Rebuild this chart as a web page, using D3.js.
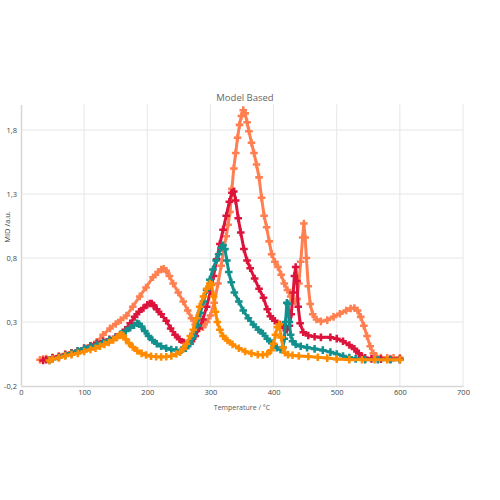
<!DOCTYPE html>
<html>
<head>
<meta charset="utf-8">
<script src="https://cdn.jsdelivr.net/npm/d3@7"></script>
<style>
  body { margin: 0; background: #fff; }
  text { font-family: "Open Sans", sans-serif; }
</style>
</head>
<body>
<script>
// axis ticks
var xTicks = [0, 100, 200, 300, 400, 500, 600, 700];
var yTicks = [-0.2, 0.3, 0.8, 1.3, 1.8];

// coral series
var coralT = [30,35,40,50,60,70,80,90,100,110,
  120,130,141,150,158,167,177,188,198,209,
  217,222,226,230,235,241,249,257,264,270,
  276,282,288,294,300,306,312,317,321,325,
  328,331,334,337,340,343,346,349,352,355,
  358,361,365,369,373,377,381,385,389,393,
  397,402,407,412,417,422,427,431,434,437,
  440,443,446,448,450,452,455,458,462,468,
  475,485,495,505,515,522,528,533,538,543,
  548,553,558,563,570,580,590,600];
var coralV = [0.005,0.01,0.015,0.025,0.035,0.05,0.06,0.075,0.095,0.115,
  0.145,0.2,0.25,0.285,0.315,0.35,0.42,0.5,0.57,0.65,
  0.69,0.71,0.715,0.7,0.66,0.6,0.53,0.46,0.39,0.33,
  0.28,0.255,0.26,0.3,0.35,0.45,0.6,0.74,0.86,0.97,
  1.06,1.16,1.34,1.5,1.62,1.74,1.84,1.91,1.955,1.93,
  1.86,1.79,1.7,1.62,1.53,1.43,1.27,1.13,1.04,0.93,
  0.83,0.77,0.73,0.67,0.6,0.55,0.5,0.47,0.46,0.48,
  0.6,0.77,0.96,1.07,0.96,0.8,0.58,0.44,0.36,0.32,
  0.305,0.315,0.34,0.365,0.39,0.405,0.41,0.39,0.34,0.27,
  0.19,0.11,0.055,0.03,0.022,0.02,0.02,0.02];

// crimson series
var crimsonT = [35,40,50,60,70,80,90,100,110,120,
  130,140,150,157,165,173,180,187,194,200,
  204,207,210,215,222,230,237,244,251,258,
  264,270,276,282,288,294,300,305,310,315,
  320,325,330,334,337,340,344,348,353,358,
  363,370,377,384,390,395,402,410,416,421,
  425,428,431,433,435,437,439,442,447,455,
  465,475,490,500,510,520,528,535,540,545,
  555,570,585,600];
var crimsonV = [0,0.005,0.02,0.03,0.045,0.06,0.075,0.095,0.115,0.135,
  0.15,0.165,0.185,0.2,0.24,0.29,0.34,0.38,0.41,0.435,
  0.445,0.445,0.43,0.4,0.36,0.31,0.25,0.2,0.165,0.14,
  0.135,0.15,0.19,0.25,0.32,0.42,0.54,0.66,0.79,0.91,
  1.02,1.13,1.24,1.31,1.32,1.25,1.11,1.0,0.87,0.78,
  0.72,0.64,0.56,0.49,0.4,0.345,0.31,0.28,0.255,0.24,
  0.27,0.36,0.53,0.66,0.73,0.62,0.42,0.29,0.22,0.195,
  0.185,0.18,0.18,0.17,0.15,0.12,0.09,0.055,0.03,0.02,
  0.012,0.01,0.01,0.01];

// teal series
var tealT = [45,50,60,70,80,90,100,110,120,130,
  140,150,158,166,173,179,184,187,191,196,
  202,208,215,222,230,238,246,254,261,268,
  274,279,284,289,294,299,304,309,313,317,
  320,323,326,329,333,338,345,352,360,368,
  376,383,390,397,405,411,415,417,419,421,
  423,425,427,430,435,443,453,465,478,490,
  500,510,520,530,545,565,585,600];
var tealV = [0,0.01,0.025,0.04,0.055,0.075,0.095,0.11,0.125,0.14,
  0.16,0.18,0.205,0.23,0.255,0.275,0.29,0.285,0.265,0.23,
  0.19,0.16,0.13,0.11,0.095,0.085,0.08,0.08,0.095,0.13,
  0.19,0.27,0.37,0.46,0.55,0.63,0.71,0.78,0.83,0.88,
  0.9,0.87,0.78,0.69,0.61,0.53,0.46,0.39,0.33,0.28,
  0.24,0.21,0.17,0.135,0.1,0.085,0.1,0.17,0.3,0.45,
  0.44,0.3,0.2,0.15,0.125,0.11,0.1,0.09,0.08,0.065,
  0.05,0.035,0.022,0.012,0.006,0.005,0.005,0.005];

// orange series
var orangeT = [45,50,60,70,80,90,100,110,118,125,
  132,139,146,152,156,159,162,166,171,177,
  184,191,198,206,214,222,230,238,246,252,
  257,262,268,273,278,283,289,294,299,302,
  305,308,311,315,320,327,335,345,355,365,
  375,383,390,396,400,403,406,409,412,415,
  418,423,430,440,455,470,485,500,520,540,
  560,580,600];
var orangeV = [0,0.01,0.02,0.035,0.045,0.055,0.07,0.085,0.095,0.11,
  0.125,0.14,0.16,0.18,0.195,0.2,0.19,0.165,0.135,0.105,
  0.075,0.055,0.042,0.033,0.028,0.026,0.028,0.035,0.05,0.065,
  0.09,0.13,0.19,0.24,0.33,0.42,0.5,0.56,0.6,0.59,
  0.5,0.38,0.3,0.24,0.19,0.155,0.125,0.095,0.07,0.055,
  0.045,0.043,0.05,0.08,0.13,0.2,0.26,0.28,0.18,0.1,
  0.06,0.045,0.04,0.035,0.03,0.025,0.018,0.01,0.006,0.005,
  0.005,0.005,0.005];

var series = [
  { t: coralT, v: coralV, color: "#ff7f50" },
  { t: crimsonT, v: crimsonV, color: "#dc143c" },
  { t: tealT, v: tealV, color: "#12908e" },
  { t: orangeT, v: orangeV, color: "#ff8c00" }
];

var width = 500, height = 500;
var plotLeft = 21, plotRight = 463, plotTop = 104.4, plotBottom = 386;

var svg = d3.select("body").append("svg")
  .attr("width", width)
  .attr("height", height)
  .style("background", "#fff");

var x = d3.scaleLinear().domain([0, 700]).range([plotLeft, plotRight]);
var y = d3.scaleLinear().domain([-0.2, 2.0]).range([plotBottom, plotTop]);

// grid
svg.append("g").selectAll("line").data(xTicks.slice(1)).enter().append("line")
  .attr("x1", function(d) { return x(d); })
  .attr("x2", function(d) { return x(d); })
  .attr("y1", plotTop).attr("y2", plotBottom)
  .attr("stroke", "#e6e6e6").attr("stroke-width", 1);
svg.append("g").selectAll("line").data(yTicks.slice(1)).enter().append("line")
  .attr("x1", plotLeft).attr("x2", plotRight)
  .attr("y1", function(d) { return y(d); })
  .attr("y2", function(d) { return y(d); })
  .attr("stroke", "#e6e6e6").attr("stroke-width", 1);

// axes
var fmt = function(d) { return d3.format(".1f")(d).replace(".", ",").replace("−", "-"); };
var yAxis = svg.append("g").attr("transform", "translate(" + plotLeft + ",0)")
  .call(d3.axisLeft(y).tickValues(yTicks).tickSize(0).tickPadding(4).tickFormat(fmt));
var xAxis = svg.append("g").attr("transform", "translate(0," + plotBottom + ")")
  .call(d3.axisBottom(x).tickValues(xTicks).tickSize(0).tickPadding(4).tickFormat(d3.format("d")));
[xAxis, yAxis].forEach(function(a) {
  a.select(".domain").attr("stroke", "#d6d6d6").attr("stroke-width", 1.5);
  a.selectAll("text").attr("fill", "#444").style("font-size", "7.5px")
    .style("font-family", "'Open Sans', sans-serif");
});

// series: line (model) + cross markers (data)
var line = d3.line()
  .x(function(d) { return x(d[0]); })
  .y(function(d) { return y(d[1]); });
var marker = d3.symbol().type(d3.symbolCross).size(32);

series.forEach(function(s) {
  var pts = s.t.map(function(t, i) { return [t, s.v[i]]; });
  var g = svg.append("g");
  g.append("path").datum(pts)
    .attr("d", line)
    .attr("fill", "none")
    .attr("stroke", s.color)
    .attr("stroke-width", 3)
    .attr("stroke-linejoin", "round")
    .attr("stroke-linecap", "round");
  g.selectAll("path.m").data(pts).enter().append("path")
    .attr("class", "m")
    .attr("d", marker)
    .attr("transform", function(d) { return "translate(" + x(d[0]) + "," + y(d[1]) + ")"; })
    .attr("fill", s.color);
});

// labels
svg.append("text")
  .attr("x", (plotLeft + plotRight) / 2 + 3).attr("y", 101)
  .attr("text-anchor", "middle")
  .attr("fill", "#666").style("font-size", "9.5px")
  .text("Model Based");
svg.append("text")
  .attr("x", 242).attr("y", 410)
  .attr("text-anchor", "middle")
  .attr("fill", "#555").style("font-size", "7px")
  .text("Temperature / °C");
svg.append("text")
  .attr("transform", "translate(10,227) rotate(-90)")
  .attr("text-anchor", "middle")
  .attr("fill", "#444").style("font-size", "7.5px")
  .text("MID /a.u.");
</script>
</body>
</html>
